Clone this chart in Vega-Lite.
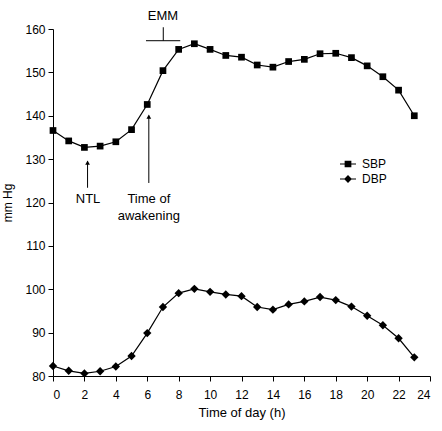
{
  "$schema": "https://vega.github.io/schema/vega-lite/v6.json",
  "width": 377,
  "height": 347,
  "autosize": "none",
  "padding": {"left": 53, "top": 29, "right": 12, "bottom": 55},
  "background": "white",
  "config": {
    "font": "Liberation Sans",
    "view": {"stroke": null},
    "axis": {"grid": false, "domainColor": "black", "tickColor": "black", "labelColor": "black", "titleColor": "black", "labelFont": "Liberation Sans", "titleFont": "Liberation Sans", "labelFontSize": 12, "titleFontWeight": "normal", "tickSize": 5, "domainWidth": 1, "tickWidth": 1, "labelOverlap": false}
  },
  "datasets": {
    "bp": [
      {"hour": 0, "series": "SBP", "mmhg": 136.6},
      {"hour": 1, "series": "SBP", "mmhg": 134.2},
      {"hour": 2, "series": "SBP", "mmhg": 132.7},
      {"hour": 3, "series": "SBP", "mmhg": 133.0},
      {"hour": 4, "series": "SBP", "mmhg": 134.0},
      {"hour": 5, "series": "SBP", "mmhg": 136.8},
      {"hour": 6, "series": "SBP", "mmhg": 142.6},
      {"hour": 7, "series": "SBP", "mmhg": 150.4},
      {"hour": 8, "series": "SBP", "mmhg": 155.3},
      {"hour": 9, "series": "SBP", "mmhg": 156.6},
      {"hour": 10, "series": "SBP", "mmhg": 155.3},
      {"hour": 11, "series": "SBP", "mmhg": 153.9},
      {"hour": 12, "series": "SBP", "mmhg": 153.5},
      {"hour": 13, "series": "SBP", "mmhg": 151.7},
      {"hour": 14, "series": "SBP", "mmhg": 151.2},
      {"hour": 15, "series": "SBP", "mmhg": 152.5},
      {"hour": 16, "series": "SBP", "mmhg": 153.0},
      {"hour": 17, "series": "SBP", "mmhg": 154.3},
      {"hour": 18, "series": "SBP", "mmhg": 154.4},
      {"hour": 19, "series": "SBP", "mmhg": 153.4},
      {"hour": 20, "series": "SBP", "mmhg": 151.5},
      {"hour": 21, "series": "SBP", "mmhg": 149.0},
      {"hour": 22, "series": "SBP", "mmhg": 145.9},
      {"hour": 23, "series": "SBP", "mmhg": 140.0},
      {"hour": 0, "series": "DBP", "mmhg": 82.3},
      {"hour": 1, "series": "DBP", "mmhg": 81.2},
      {"hour": 2, "series": "DBP", "mmhg": 80.6},
      {"hour": 3, "series": "DBP", "mmhg": 81.1},
      {"hour": 4, "series": "DBP", "mmhg": 82.2},
      {"hour": 5, "series": "DBP", "mmhg": 84.6},
      {"hour": 6, "series": "DBP", "mmhg": 89.9},
      {"hour": 7, "series": "DBP", "mmhg": 95.9},
      {"hour": 8, "series": "DBP", "mmhg": 99.1},
      {"hour": 9, "series": "DBP", "mmhg": 100.1},
      {"hour": 10, "series": "DBP", "mmhg": 99.4},
      {"hour": 11, "series": "DBP", "mmhg": 98.8},
      {"hour": 12, "series": "DBP", "mmhg": 98.4},
      {"hour": 13, "series": "DBP", "mmhg": 95.9},
      {"hour": 14, "series": "DBP", "mmhg": 95.3},
      {"hour": 15, "series": "DBP", "mmhg": 96.5},
      {"hour": 16, "series": "DBP", "mmhg": 97.2},
      {"hour": 17, "series": "DBP", "mmhg": 98.2},
      {"hour": 18, "series": "DBP", "mmhg": 97.5},
      {"hour": 19, "series": "DBP", "mmhg": 96.0},
      {"hour": 20, "series": "DBP", "mmhg": 93.9},
      {"hour": 21, "series": "DBP", "mmhg": 91.7},
      {"hour": 22, "series": "DBP", "mmhg": 88.7},
      {"hour": 23, "series": "DBP", "mmhg": 84.3}
    ],
    "labels": [
      {"hour": 2.23, "mmhg": 120.8, "text": "NTL"},
      {"hour": 6.1, "mmhg": 120.8, "text": "Time of"},
      {"hour": 6.1, "mmhg": 116.9, "text": "awakening"},
      {"hour": 7.0, "mmhg": 163.0, "text": "EMM"}
    ],
    "rules": [
      {"hour": 2.2, "hour2": 2.2, "mmhg": 123.4, "mmhg2": 129.5},
      {"hour": 6.1, "hour2": 6.1, "mmhg": 124.5, "mmhg2": 140.0},
      {"hour": 5.92, "hour2": 8.1, "mmhg": 157.3, "mmhg2": 157.3},
      {"hour": 7.02, "hour2": 7.02, "mmhg": 157.3, "mmhg2": 160.4}
    ],
    "heads": [
      {"hour": 2.2, "mmhg": 129.2},
      {"hour": 6.1, "mmhg": 139.8}
    ]
  },
  "encoding": {
    "x": {"field": "hour", "type": "quantitative", "scale": {"domain": [0, 24], "nice": false},
      "axis": {"values": [0, 2, 4, 6, 8, 10, 12, 14, 16, 18, 20, 22, 24], "labelOverlap": false, "title": "Time of day (h)", "titleFontSize": 13, "labelPadding": 8, "titlePadding": 6}},
    "y": {"field": "mmhg", "type": "quantitative", "scale": {"domain": [80, 160], "nice": false, "zero": false},
      "axis": {"values": [80, 90, 100, 110, 120, 130, 140, 150, 160], "labelOverlap": false, "title": "mm Hg", "titleFontSize": 12, "labelPadding": 3, "titlePadding": 10}}
  },
  "layer": [
    {
      "data": {"name": "bp"},
      "mark": {"type": "line", "color": "black", "strokeWidth": 1.2},
      "encoding": {
        "detail": {"field": "series"}
      }
    },
    {
      "data": {"name": "bp"},
      "transform": [{"filter": "datum.series === 'SBP'"}],
      "mark": {"type": "point", "shape": "square", "filled": true, "color": "black", "opacity": 1, "size": 45},
      "encoding": {}
    },
    {
      "data": {"name": "bp"},
      "transform": [{"filter": "datum.series === 'DBP'"}],
      "mark": {"type": "point", "shape": "diamond", "filled": true, "color": "black", "opacity": 1, "size": 70},
      "encoding": {}
    },
    {
      "data": {"name": "bp"},
      "mark": {"type": "point", "filled": true, "color": "black", "opacity": 0},
      "encoding": {
        "shape": {"field": "series", "type": "nominal",
          "scale": {"domain": ["SBP", "DBP"], "range": ["M-1,-0.07H-0.42V-0.42H0.42V-0.07H1V0.07H0.42V0.42H-0.42V0.07H-1Z", "M-1,-0.07H-0.43L0,-0.5L0.43,-0.07H1V0.07H0.43L0,0.5L-0.43,0.07H-1Z"]},
          "legend": {"title": null, "orient": "none", "legendX": 287, "legendY": 127,
            "labelFontSize": 12, "labelColor": "black", "labelFont": "Liberation Sans",
            "symbolSize": 256, "symbolFillColor": "black", "symbolStrokeColor": "black", "symbolStrokeWidth": 0, "symbolOpacity": 1,
            "rowPadding": 1, "labelOffset": 6}}
      }
    },
    {
      "data": {"name": "rules"},
      "mark": {"type": "rule", "color": "black", "strokeWidth": 1},
      "encoding": {
        "x2": {"field": "hour2"},
        "y2": {"field": "mmhg2"}
      }
    },
    {
      "data": {"name": "heads"},
      "mark": {"type": "point", "shape": "triangle-up", "filled": true, "color": "black", "size": 22, "opacity": 1},
      "encoding": {}
    },
    {
      "data": {"name": "labels"},
      "mark": {"type": "text", "font": "Liberation Sans", "fontSize": 13, "color": "black", "align": "center", "baseline": "middle"},
      "encoding": {
        "text": {"field": "text"}
      }
    }
  ]
}
